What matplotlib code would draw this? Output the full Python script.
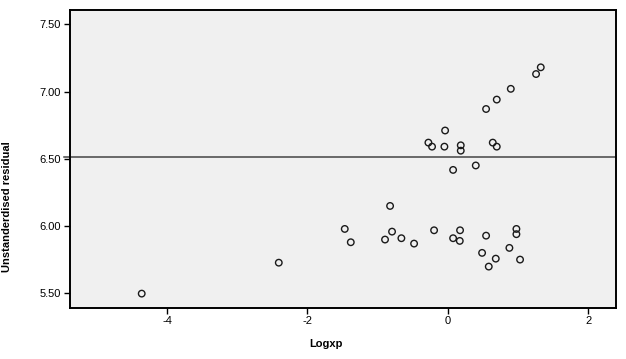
import matplotlib
matplotlib.use("Agg")
import matplotlib.pyplot as plt

# Logxp vs unstandardised residual
logxp = [1.325, 1.258, 0.898, 0.698, 0.546, -0.038, -0.276, -0.224, -0.048,
         0.185, 0.185, 0.641, 0.698, 0.076, 0.399,
         -4.361, -2.408,
         -0.822, -1.468, -1.382, -0.794, -0.894, -0.661, -0.480, -0.195,
         0.076, 0.175, 0.171, 0.546, 0.489, 0.684, 0.584, 0.878, 0.978,
         0.978, 1.030]
resid = [7.18, 7.13, 7.02, 6.94, 6.87, 6.71, 6.62, 6.59, 6.59,
         6.60, 6.56, 6.62, 6.59, 6.417, 6.45,
         5.497, 5.727,
         6.149, 5.978, 5.879, 5.958, 5.899, 5.909, 5.869, 5.968,
         5.909, 5.968, 5.889, 5.928, 5.800, 5.757, 5.698, 5.837, 5.978,
         5.939, 5.750]
ref_line = 6.516

xticks = [-4, -2, 0, 2]
yticks = [5.5, 6.0, 6.5, 7.0, 7.5]

plt.rcParams['font.family'] = ['Liberation Sans', 'DejaVu Sans']

fig = plt.figure(figsize=(6.26, 3.59), dpi=100)
ax = fig.add_axes([69.5/626, 1-308/359, 546/626, 298.5/359])
ax.set_facecolor("#f0f0f0")

ax.scatter(logxp, resid, s=22, facecolors="none", edgecolors="#1a1a1a",
           linewidths=1.0, zorder=3)
ax.axhline(ref_line, xmin=-0.01, xmax=1.0, color="#444444", lw=1.1,
           clip_on=False, zorder=2)

ax.set_xlim(-5.39, 2.39)
ax.set_ylim(5.39, 7.61)
ax.set_xticks(xticks)
ax.set_xticklabels([str(t) for t in xticks])
ax.set_yticks(yticks)
ax.set_yticklabels(["%.2f" % t for t in yticks])
ax.tick_params(labelsize=8, length=4, width=1, colors="black", pad=2)

for sp in ax.spines.values():
    sp.set_linewidth(1.4)
    sp.set_color("black")

ax.set_xlabel("Logxp", fontsize=8, fontweight="bold")
ax.xaxis.set_label_coords(0.47, -0.105)
ax.set_ylabel("Unstanderdised residual", fontsize=8, fontweight="bold")
ax.yaxis.set_label_coords(-0.105, 0.34)

fig.savefig("out.png", dpi=100)
